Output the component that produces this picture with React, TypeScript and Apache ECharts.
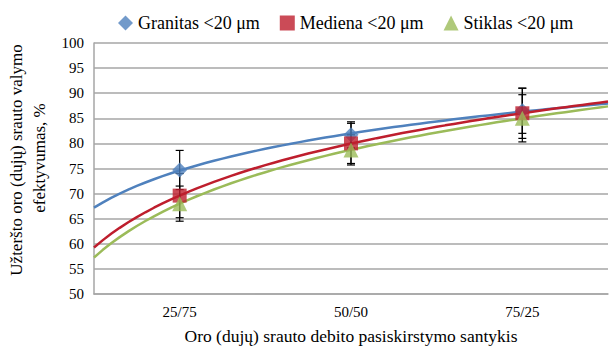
import React, { useEffect, useRef } from "react";
import * as echarts from "echarts";

const categories = ["25/75", "50/50", "75/25"];
const seriesNames = ["Granitas <20 μm", "Mediena <20 μm", "Stiklas <20 μm"];
const granitas = [74.7, 81.7, 86.5];
const mediena = [69.6, 80.0, 86.0];
const stiklas = [68.0, 78.7, 85.0];
const granitasErr = [3.9, 2.6, 4.5];
const medienaErr = [4.4, 4.0, 5.0];
const stiklasErr = [3.5, 3.0, 4.7];
const yTicks = { min: 50, max: 100, interval: 5 };

const colors = ["#4F81BD", "#BE1E2D", "#9BBB59"];
const symbols = ["diamond", "rect", "triangle"];
const symbolSizes = [15, 14, 15];
const FONT = "Liberation Serif";

function logFit(vals: number[]) {
  const xs = vals.map((_, i) => Math.log(i + 1));
  const n = vals.length;
  const mx = xs.reduce((a, b) => a + b, 0) / n;
  const my = vals.reduce((a, b) => a + b, 0) / n;
  let sxx = 0, sxy = 0;
  xs.forEach((x, i) => { sxx += (x - mx) ** 2; sxy += (x - mx) * (vals[i] - my); });
  const a = sxy / sxx;
  const b = my - a * mx;
  const pts: number[][] = [];
  for (let k = 0; k <= 60; k++) {
    const x = 0.5 + k * 0.05;
    pts.push([x, a * Math.log(x) + b]);
  }
  return pts;
}

export default function App() {
  const ref = useRef<HTMLDivElement>(null);
  useEffect(() => {
    if (!ref.current) return;
    const chart = echarts.init(ref.current, undefined, { renderer: "svg" });
    const all = [granitas, mediena, stiklas];
    const errs = [granitasErr, medienaErr, stiklasErr];
    const series: any[] = [];
    all.forEach((vals, si) => {
      series.push({
        type: "line",
        name: "trend" + si,
        xAxisIndex: 1,
        data: logFit(vals),
        showSymbol: false,
        symbol: "none",
        lineStyle: { color: colors[si], width: 2.5 },
        z: 2,
        silent: true,
      });
    });
    all.forEach((vals, si) => {
      series.push({
        type: "custom",
        name: "err" + si,
        xAxisIndex: 1,
        data: vals.map((v, i) => [i + 1, v - errs[si][i], v + errs[si][i]]),
        renderItem: (params: any, api: any) => {
          const x = api.value(0);
          const lo = api.coord([x, api.value(1)]);
          const hi = api.coord([x, api.value(2)]);
          const w = 4;
          const style = { stroke: "#000", lineWidth: 1.2 };
          return {
            type: "group",
            children: [
              { type: "line", shape: { x1: lo[0], y1: lo[1], x2: hi[0], y2: hi[1] }, style },
              { type: "line", shape: { x1: lo[0] - w, y1: lo[1], x2: lo[0] + w, y2: lo[1] }, style },
              { type: "line", shape: { x1: hi[0] - w, y1: hi[1], x2: hi[0] + w, y2: hi[1] }, style },
            ],
          };
        },
        z: 3,
        silent: true,
      });
    });
    all.forEach((vals, si) => {
      series.push({
        type: "scatter",
        name: seriesNames[si],
        xAxisIndex: 1,
        data: vals.map((v, i) => [i + 1, v]),
        symbol: symbols[si],
        symbolSize: symbolSizes[si],
        itemStyle: { color: colors[si] },
        z: 4,
      });
    });

    chart.setOption({
      animation: false,
      textStyle: { fontFamily: FONT },
      grid: { left: 94, right: 1, top: 43, bottom: 54, outerBoundsMode: "none", containLabel: false },
      legend: {
        data: seriesNames.map((n, i) => ({ name: n, icon: symbols[i] })),
        left: 113,
        top: 9,
        itemWidth: 15,
        itemHeight: 15,
        itemGap: 20,
        textStyle: { fontFamily: FONT, fontSize: 18, color: "#000" },
      },
      xAxis: [
        {
          type: "category",
          data: categories,
          boundaryGap: true,
          axisLine: { show: true, lineStyle: { color: "#A6A6A6", width: 1.5 } },
          axisTick: { show: false },
          axisLabel: { fontFamily: FONT, fontSize: 15, color: "#000", margin: 10 },
          name: "Oro (dujų) srauto debito pasiskirstymo santykis",
          nameLocation: "middle",
          nameGap: 33,
          nameTextStyle: { fontFamily: FONT, fontSize: 17.5, color: "#000" },
        },
        { type: "value", min: 0.5, max: 3.5, show: false },
      ],
      yAxis: {
        type: "value",
        min: yTicks.min,
        max: yTicks.max,
        interval: yTicks.interval,
        axisLine: { show: true, lineStyle: { color: "#A6A6A6", width: 1.5 } },
        axisTick: { show: false },
        axisLabel: { fontFamily: FONT, fontSize: 15, color: "#000", margin: 10 },
        splitLine: { lineStyle: { color: "#A6A6A6", width: 1.5 } },
      },
      graphic: [
        {
          type: "text",
          x: 16,
          y: 160,
          rotation: Math.PI / 2,
          style: {
            text: "Užteršto oro (dujų) srauto valymo",
            fontFamily: FONT,
            fontSize: 17,
            fill: "#000",
            textAlign: "center",
            textVerticalAlign: "middle",
          },
        },
        {
          type: "text",
          x: 39,
          y: 158,
          rotation: Math.PI / 2,
          style: {
            text: "efektyvumas, %",
            fontFamily: FONT,
            fontSize: 17,
            fill: "#000",
            textAlign: "center",
            textVerticalAlign: "middle",
          },
        },
      ],
      series,
    });
    return () => chart.dispose();
  }, []);
  return (
    <div
      ref={ref}
      style={{ position: "absolute", left: 0, top: 0, width: 609, height: 348 }}
    />
  );
}
